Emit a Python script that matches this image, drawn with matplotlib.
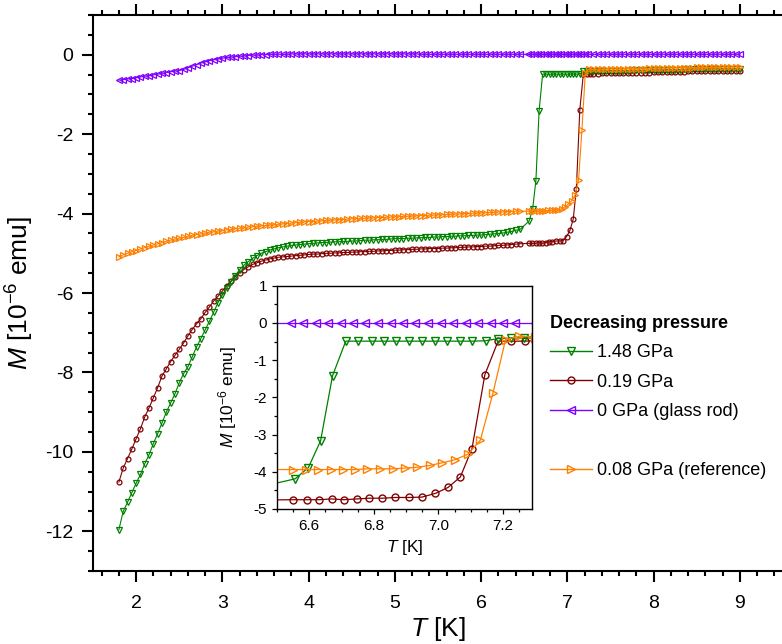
import numpy as np
import matplotlib
matplotlib.use("Agg")
import matplotlib.pyplot as plt
from matplotlib.lines import Line2D
from matplotlib.ticker import MultipleLocator

plt.rcParams['font.family'] = ['Liberation Sans', 'DejaVu Sans']
plt.rcParams['mathtext.fontset'] = 'custom'
plt.rcParams['mathtext.rm'] = 'Liberation Sans'
plt.rcParams['mathtext.it'] = 'Liberation Sans:italic'
plt.rcParams['axes.unicode_minus'] = False

# temperature grids [K]
T_LOW = [1.80, 1.85, 1.90, 1.95, 2.00, 2.05, 2.10, 2.15, 2.20, 2.25,
         2.30, 2.35, 2.40, 2.45, 2.50, 2.55, 2.60, 2.65, 2.70, 2.75,
         2.80, 2.85, 2.90, 2.95, 3.00, 3.05, 3.10, 3.15, 3.20, 3.25,
         3.30, 3.35, 3.40, 3.45, 3.50, 3.55, 3.60, 3.65, 3.70, 3.75,
         3.80, 3.85, 3.90, 3.95, 4.00, 4.05, 4.10, 4.15, 4.20, 4.25,
         4.30, 4.35, 4.40, 4.45, 4.50, 4.55, 4.60, 4.65, 4.70, 4.75,
         4.80, 4.85, 4.90, 4.95, 5.00, 5.05, 5.10, 5.15, 5.20, 5.25,
         5.30, 5.35, 5.40, 5.45, 5.50, 5.55, 5.60, 5.65, 5.70, 5.75,
         5.80, 5.85, 5.90, 5.95, 6.00, 6.05, 6.10, 6.15, 6.20, 6.25,
         6.30, 6.35, 6.40, 6.45]
T_HIGH = [7.30, 7.35, 7.40, 7.45, 7.50, 7.55, 7.60, 7.65, 7.70, 7.75,
          7.80, 7.85, 7.90, 7.95, 8.00, 8.05, 8.10, 8.15, 8.20, 8.25,
          8.30, 8.35, 8.40, 8.45, 8.50, 8.55, 8.60, 8.65, 8.70, 8.75,
          8.80, 8.85, 8.90, 8.95, 9.00]

# 1.48 GPa
green_low = [-11.96, -11.50, -11.27, -11.03, -10.79, -10.57, -10.30, -10.07, -9.79, -9.54,
             -9.27, -9.00, -8.77, -8.54, -8.26, -8.03, -7.86, -7.61, -7.36, -7.15,
             -6.93, -6.71, -6.48, -6.24, -6.05, -5.88, -5.72, -5.57, -5.41, -5.30,
             -5.21, -5.13, -5.06, -5.00, -4.96, -4.92, -4.89, -4.86, -4.84, -4.82,
             -4.80, -4.79, -4.78, -4.77, -4.76, -4.75, -4.74, -4.73, -4.73, -4.72,
             -4.71, -4.71, -4.70, -4.70, -4.69, -4.69, -4.68, -4.67, -4.67, -4.66,
             -4.66, -4.65, -4.65, -4.64, -4.63, -4.63, -4.63, -4.62, -4.62, -4.61,
             -4.61, -4.60, -4.60, -4.59, -4.59, -4.58, -4.58, -4.57, -4.57, -4.56,
             -4.56, -4.55, -4.55, -4.54, -4.54, -4.53, -4.52, -4.51, -4.50, -4.49,
             -4.47, -4.45, -4.42, -4.40]
green_T_mid = [6.556, 6.597, 6.635, 6.672, 6.713, 6.751, 6.793, 6.832, 6.870, 6.909,
               6.949, 6.991, 7.028, 7.066, 7.105, 7.146, 7.185, 7.225, 7.265]
green_mid = [-4.19, -3.89, -3.17, -1.42, -0.49, -0.49, -0.49, -0.49, -0.49, -0.49,
             -0.49, -0.49, -0.49, -0.49, -0.49, -0.48, -0.42, -0.41, -0.40]
green_high = [-0.41, -0.41, -0.41, -0.41, -0.40, -0.40, -0.40, -0.40, -0.40, -0.39,
              -0.39, -0.39, -0.39, -0.39, -0.39, -0.38, -0.38, -0.38, -0.38, -0.38,
              -0.38, -0.37, -0.37, -0.37, -0.37, -0.37, -0.37, -0.36, -0.36, -0.36,
              -0.36, -0.36, -0.36, -0.36, -0.36]

# 0.19 GPa
brown_low = [-10.76, -10.41, -10.17, -9.93, -9.67, -9.42, -9.12, -8.89, -8.64, -8.38,
             -8.09, -7.91, -7.73, -7.57, -7.42, -7.26, -7.08, -6.92, -6.78, -6.65,
             -6.49, -6.35, -6.20, -6.08, -5.95, -5.82, -5.70, -5.59, -5.49, -5.41,
             -5.34, -5.28, -5.24, -5.20, -5.17, -5.14, -5.12, -5.10, -5.09, -5.08,
             -5.07, -5.06, -5.05, -5.04, -5.03, -5.02, -5.02, -5.01, -5.00, -5.00,
             -4.99, -4.99, -4.98, -4.98, -4.97, -4.97, -4.96, -4.96, -4.95, -4.95,
             -4.94, -4.94, -4.93, -4.93, -4.92, -4.92, -4.91, -4.91, -4.90, -4.90,
             -4.89, -4.89, -4.88, -4.88, -4.88, -4.87, -4.87, -4.86, -4.86, -4.85,
             -4.85, -4.84, -4.84, -4.83, -4.83, -4.82, -4.82, -4.81, -4.80, -4.80,
             -4.79, -4.78, -4.77, -4.76]
brown_T_mid = [6.550, 6.592, 6.631, 6.669, 6.707, 6.747, 6.786, 6.826, 6.867, 6.909,
               6.949, 6.991, 7.030, 7.068, 7.104, 7.144, 7.185, 7.226, 7.267]
brown_mid = [-4.75, -4.75, -4.75, -4.73, -4.75, -4.73, -4.71, -4.71, -4.69, -4.69,
             -4.68, -4.58, -4.42, -4.14, -3.38, -1.39, -0.49, -0.49, -0.49]
brown_high = [-0.48, -0.48, -0.47, -0.47, -0.47, -0.47, -0.46, -0.46, -0.46, -0.46,
              -0.45, -0.45, -0.45, -0.45, -0.44, -0.44, -0.44, -0.44, -0.43, -0.43,
              -0.43, -0.43, -0.42, -0.42, -0.42, -0.42, -0.41, -0.41, -0.41, -0.41,
              -0.41, -0.40, -0.40, -0.40, -0.40]

# 0 GPa (glass rod)
purple_low = [-0.64, -0.63, -0.61, -0.60, -0.58, -0.56, -0.54, -0.53, -0.51, -0.49,
              -0.47, -0.45, -0.43, -0.41, -0.40, -0.37, -0.33, -0.29, -0.25, -0.21,
              -0.18, -0.15, -0.13, -0.11, -0.09, -0.07, -0.06, -0.05, -0.04, -0.03,
              -0.02, -0.01, -0.01, 0.00, 0.00, 0.01, 0.01, 0.01, 0.01, 0.01,
              0.02, 0.02, 0.02, 0.02, 0.02, 0.02, 0.02, 0.02, 0.02, 0.02,
              0.02, 0.02, 0.02, 0.02, 0.02, 0.02, 0.02, 0.02, 0.02, 0.02,
              0.02, 0.02, 0.02, 0.02, 0.02, 0.02, 0.02, 0.02, 0.02, 0.02,
              0.01, 0.01, 0.01, 0.01, 0.01, 0.01, 0.01, 0.01, 0.01, 0.01,
              0.01, 0.01, 0.01, 0.01, 0.01, 0.01, 0.01, 0.01, 0.01, 0.01,
              0.01, 0.01, 0.01, 0.01]
purple_T_mid = [6.542, 6.581, 6.621, 6.659, 6.697, 6.736, 6.774, 6.813, 6.852, 6.891,
                6.929, 6.968, 7.007, 7.045, 7.084, 7.123, 7.162, 7.200, 7.238]
purple_mid = [0.01, 0.01, 0.01, 0.01, 0.01, 0.01, 0.01, 0.01, 0.01, 0.01,
              0.01, 0.01, 0.01, 0.01, 0.01, 0.01, 0.01, 0.01, 0.01]
purple_high = [0.01, 0.01, 0.01, 0.01, 0.01, 0.01, 0.01, 0.01, 0.01, 0.01,
               0.01, 0.01, 0.01, 0.01, 0.01, 0.01, 0.01, 0.01, 0.01, 0.01,
               0.01, 0.01, 0.01, 0.01, 0.01, 0.01, 0.01, 0.01, 0.01, 0.01,
               0.01, 0.01, 0.01, 0.01, 0.01]

# 0.08 GPa (reference)
orange_low = [-5.09, -5.04, -5.00, -4.96, -4.93, -4.89, -4.86, -4.82, -4.79, -4.76,
              -4.73, -4.70, -4.67, -4.64, -4.62, -4.60, -4.57, -4.55, -4.53, -4.51,
              -4.49, -4.47, -4.46, -4.44, -4.43, -4.41, -4.40, -4.38, -4.37, -4.36,
              -4.34, -4.33, -4.32, -4.31, -4.30, -4.29, -4.28, -4.27, -4.26, -4.25,
              -4.24, -4.23, -4.22, -4.21, -4.20, -4.20, -4.19, -4.18, -4.17, -4.17,
              -4.16, -4.15, -4.15, -4.14, -4.13, -4.13, -4.12, -4.12, -4.11, -4.11,
              -4.10, -4.10, -4.09, -4.09, -4.08, -4.08, -4.07, -4.07, -4.06, -4.06,
              -4.05, -4.05, -4.04, -4.04, -4.03, -4.03, -4.02, -4.02, -4.01, -4.01,
              -4.00, -4.00, -3.99, -3.99, -3.98, -3.98, -3.97, -3.97, -3.96, -3.96,
              -3.95, -3.95, -3.94, -3.94]
orange_T_mid = [6.550, 6.590, 6.628, 6.666, 6.703, 6.741, 6.780, 6.819, 6.858, 6.896,
                6.934, 6.973, 7.011, 7.050, 7.091, 7.130, 7.169, 7.208, 7.249]
orange_mid = [-3.94, -3.94, -3.94, -3.94, -3.94, -3.94, -3.92, -3.92, -3.92, -3.90,
              -3.88, -3.83, -3.76, -3.68, -3.53, -3.15, -1.89, -0.45, -0.36]
orange_high = [-0.37, -0.37, -0.37, -0.36, -0.36, -0.36, -0.36, -0.36, -0.35, -0.35,
               -0.35, -0.35, -0.35, -0.34, -0.34, -0.34, -0.34, -0.34, -0.33, -0.33,
               -0.33, -0.33, -0.33, -0.33, -0.32, -0.32, -0.32, -0.32, -0.32, -0.32,
               -0.31, -0.31, -0.31, -0.31, -0.31]

series = [
    # label, color, marker, T mid, M low, M mid, M high
    ("0.19 GPa", "#800000", "o", brown_T_mid, brown_low, brown_mid, brown_high),
    ("1.48 GPa", "#008000", "v", green_T_mid, green_low, green_mid, green_high),
    ("0.08 GPa (reference)", "#FF8000", ">", orange_T_mid, orange_low, orange_mid, orange_high),
    ("0 GPa (glass rod)", "#8000FF", "<", purple_T_mid, purple_low, purple_mid, purple_high),
]

W, H = 782, 644
fig = plt.figure(figsize=(W / 100, H / 100), dpi=100)
ax = fig.add_axes([93 / W, (H - 571) / H, 690 / W, 556 / H])
ins = fig.add_axes([277 / W, (H - 509) / H, 255 / W, 223.3 / H])

handles = {}
for label, col, mk, t_mid, m_low, m_mid, m_high in series:
    t_all = T_LOW + t_mid + T_HIGH
    m_all = m_low + m_mid + m_high
    ms_main = 3.5 if mk == "o" else 4.1
    ax.plot(t_all, m_all, color=col, lw=0.8, marker=mk, ms=ms_main,
            mfc="none", mec=col, mew=0.9)
    ms_ins = 5.0 if mk == "o" else 5.8
    ins.plot(t_all, m_all, color=col, lw=0.9, marker=mk, ms=ms_ins,
             mfc="none", mec=col, mew=1.0)
    handles[label] = Line2D([], [], color=col, lw=1.0, marker=mk, ms=ms_ins,
                            mfc="none", mec=col, mew=1.0)

# main axes
ax.set_xlim(1.5, 9.5)
ax.set_ylim(-13, 1)
ax.xaxis.set_major_locator(MultipleLocator(1))
ax.xaxis.set_minor_locator(MultipleLocator(0.2))
ax.yaxis.set_major_locator(MultipleLocator(2))
ax.yaxis.set_minor_locator(MultipleLocator(0.5))
for s in ["left", "bottom", "top"]:
    ax.spines[s].set_linewidth(1.5)
ax.spines["right"].set_visible(False)
ax.tick_params(which="both", direction="out", width=1.5, top=True, labeltop=False,
               right=False, labelsize=14, pad=6)
ax.tick_params(axis="x", which="major", pad=9)
ax.tick_params(which="major", length=8)
ax.tick_params(which="minor", length=3.8)
ax.set_xlabel(r"$T$ [K]", fontsize=19)
ax.set_ylabel(r"$M$ [10$^{-6}$ emu]", fontsize=19)
ax.xaxis.set_label_coords(0.5, -0.08)
ax.yaxis.set_label_coords(-0.083, 0.5)

# inset
ins.set_xlim(6.5, 7.29)
ins.set_ylim(-5, 1)
ins.xaxis.set_major_locator(MultipleLocator(0.2))
ins.xaxis.set_minor_locator(MultipleLocator(0.05))
ins.yaxis.set_major_locator(MultipleLocator(1))
ins.yaxis.set_minor_locator(MultipleLocator(0.5))
ins.xaxis.set_major_formatter(plt.FormatStrFormatter("%.1f"))
for s in ins.spines.values():
    s.set_linewidth(1.0)
ins.tick_params(which="both", direction="out", width=0.9, labelsize=11, pad=3.5)
ins.tick_params(which="major", length=3.5)
ins.tick_params(which="minor", length=2)
ins.set_xlabel(r"$T$ [K]", fontsize=12.5)
ins.set_ylabel(r"$M$ [10$^{-6}$ emu]", fontsize=12.5)
ins.xaxis.set_label_coords(0.5, -0.13)
ins.yaxis.set_label_coords(-0.15, 0.5)

# legend with an empty row before the reference
blank = Line2D([], [], linestyle="none", marker="none")
leg_handles = [handles["1.48 GPa"], handles["0.19 GPa"], handles["0 GPa (glass rod)"],
               blank, handles["0.08 GPa (reference)"]]
leg_labels = ["1.48 GPa", "0.19 GPa", "0 GPa (glass rod)", " ", "0.08 GPa (reference)"]
ax.legend(leg_handles, leg_labels, loc="upper left",
          bbox_to_anchor=(537 / W, 1 - 301.5 / H), bbox_transform=fig.transFigure,
          frameon=False, fontsize=13, title="Decreasing pressure",
          title_fontproperties={"weight": "bold", "size": 13}, alignment="left",
          handlelength=2.33, handletextpad=0.28, labelspacing=0.69,
          borderpad=0.73, borderaxespad=0, numpoints=1)

fig.savefig("out.png", dpi=100)
